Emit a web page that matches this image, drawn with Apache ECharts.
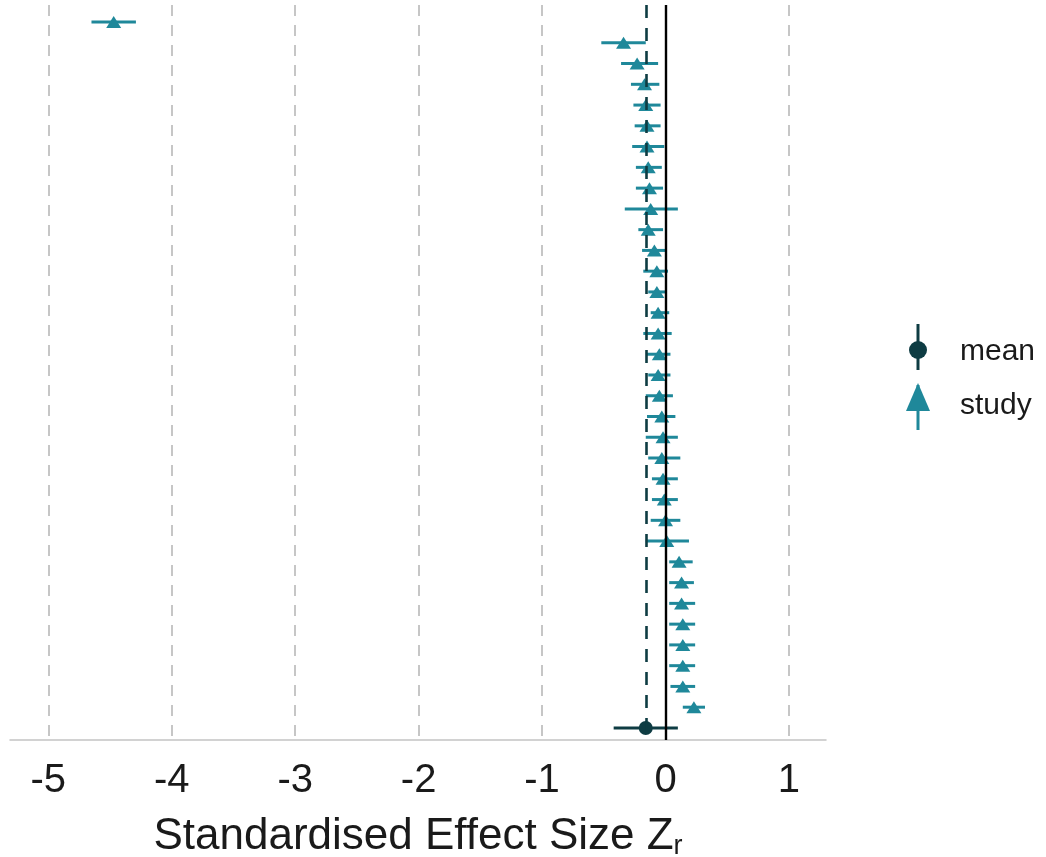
<!DOCTYPE html>
<html>
<head>
<meta charset="utf-8">
<script src="https://cdn.jsdelivr.net/npm/echarts@6/dist/echarts.min.js"></script>
<style>
  html, body { margin: 0; padding: 0; background: #fff; }
  #chart { width: 1046px; height: 857px; }
</style>
</head>
<body>
<div id="chart"></div>
<script>
  // study estimates, top row first
  var studyEst = [-4.47, -0.34, -0.23, -0.17, -0.16, -0.15, -0.15, -0.14, -0.13, -0.12,
                  -0.14, -0.09, -0.07, -0.07, -0.06, -0.06, -0.05, -0.06, -0.05, -0.03,
                  -0.02, -0.03, -0.02, -0.01, 0.00, 0.01, 0.11, 0.13, 0.13, 0.14,
                  0.14, 0.14, 0.14, 0.23]
  var studyLo = [-4.65, -0.52, -0.36, -0.28, -0.26, -0.25, -0.27, -0.24, -0.24, -0.33,
                 -0.22, -0.19, -0.18, -0.14, -0.12, -0.18, -0.15, -0.14, -0.16, -0.15,
                 -0.16, -0.14, -0.11, -0.11, -0.12, -0.16, 0.03, 0.03, 0.03, 0.03,
                 0.03, 0.03, 0.04, 0.14]
  var studyHi = [-4.29, -0.16, -0.06, -0.05, -0.04, -0.04, -0.01, -0.03, -0.02, 0.10,
                 -0.02, 0.00, 0.02, 0.01, 0.03, 0.05, 0.04, 0.04, 0.06, 0.08,
                 0.10, 0.12, 0.10, 0.10, 0.12, 0.19, 0.22, 0.23, 0.24, 0.24,
                 0.24, 0.24, 0.24, 0.32]
  var meanEst = -0.16
  var meanLo = -0.42
  var meanHi = 0.10
  var tickValues = [-5, -4, -3, -2, -1, 0, 1]

  var studyColor = '#1f889a'
  var meanColor = '#0e3c43'

  var studyRows = studyEst.map(function (v, i) { return [v, i, studyLo[i], studyHi[i]] })
  var meanRow = [[meanEst, studyEst.length, meanLo, meanHi]]

  function ciRender(color) {
    return function (params, api) {
      var a = api.coord([api.value(2), api.value(1)])
      var b = api.coord([api.value(3), api.value(1)])
      return {
        type: 'line',
        shape: { x1: a[0], y1: a[1], x2: b[0], y2: b[1] },
        style: { stroke: color, lineWidth: 3 }
      }
    }
  }

  var chart = echarts.init(document.getElementById('chart'))
  var option = {
    animation: false,
    grid: { left: 10, right: 220, top: 5, bottom: 117, containLabel: false, outerBoundsMode: 'none' },
    xAxis: {
      type: 'value',
      position: 'bottom',
      min: -5.31,
      max: 1.30,
      axisLine: { show: true, onZero: false, lineStyle: { color: '#c4c4c4', width: 1.5 } },
      axisTick: { show: false },
      splitLine: { show: false },
      axisLabel: {
        customValues: tickValues,
        color: '#1a1a1a',
        fontSize: 40,
        fontFamily: 'Liberation Sans',
        margin: 21
      },
      name: '{a|Standardised Effect Size Z}{s|r}',
      nameLocation: 'middle',
      nameGap: 73,
      nameTextStyle: {
        rich: {
          a: { fontSize: 44, fontFamily: 'Liberation Sans', color: '#1a1a1a' },
          s: { fontSize: 27, fontFamily: 'Liberation Sans', color: '#1a1a1a', verticalAlign: 'bottom', padding: [20, 0, 0, 0] }
        }
      }
    },
    yAxis: {
      type: 'value',
      inverse: true,
      min: -0.82,
      max: 34.58,
      show: false
    },
    series: [
      {
        // grid lines + reference lines
        type: 'scatter',
        data: [],
        silent: true,
        markLine: {
          symbol: 'none',
          silent: true,
          label: { show: false },
          data: tickValues.filter(function (t) { return t !== 0 }).map(function (t) {
            return { xAxis: t, lineStyle: { color: '#b8b8b8', width: 1.6, type: [11, 9] } }
          }).concat([
            { xAxis: 0, lineStyle: { color: '#000', width: 2.4, type: 'solid' } },
            { xAxis: meanEst, lineStyle: { color: meanColor, width: 2.6, type: [13, 10] } }
          ])
        }
      },
      {
        type: 'custom',
        renderItem: ciRender(studyColor),
        data: studyRows,
        encode: { x: 0, y: 1 },
        z: 3
      },
      {
        type: 'scatter',
        data: studyRows,
        symbol: 'triangle',
        symbolSize: [15, 12],
        itemStyle: { color: studyColor, opacity: 1 },
        z: 4
      },
      {
        type: 'custom',
        renderItem: ciRender(meanColor),
        data: meanRow,
        encode: { x: 0, y: 1 },
        z: 3
      },
      {
        type: 'scatter',
        data: meanRow,
        symbol: 'circle',
        symbolSize: 14,
        itemStyle: { color: meanColor, opacity: 1 },
        z: 4
      }
    ],
    graphic: [
      // legend: mean
      { type: 'line', shape: { x1: 918, y1: 324, x2: 918, y2: 370 }, style: { stroke: meanColor, lineWidth: 3 } },
      { type: 'circle', shape: { cx: 918, cy: 350, r: 9 }, style: { fill: meanColor } },
      { type: 'text', x: 960, y: 352, style: { text: 'mean', font: '30px "Liberation Sans"', fill: '#1a1a1a', verticalAlign: 'middle' } },
      // legend: study
      { type: 'line', shape: { x1: 918, y1: 385, x2: 918, y2: 430 }, style: { stroke: studyColor, lineWidth: 3 } },
      { type: 'polygon', shape: { points: [[918, 383], [930, 411], [906, 411]] }, style: { fill: studyColor } },
      { type: 'text', x: 960, y: 406, style: { text: 'study', font: '30px "Liberation Sans"', fill: '#1a1a1a', verticalAlign: 'middle' } }
    ]
  }
  chart.setOption(option)
</script>
</body>
</html>
